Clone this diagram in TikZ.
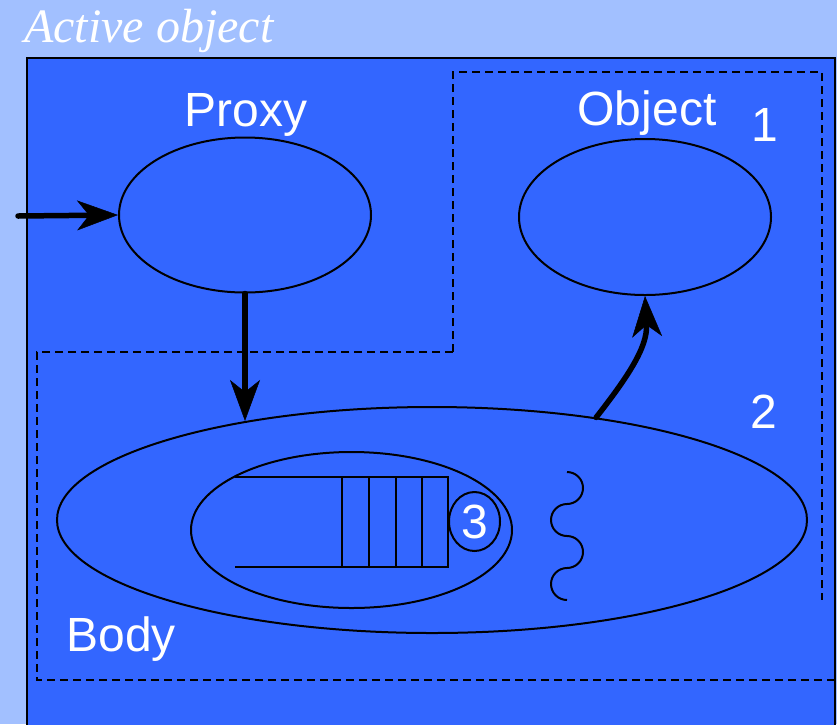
\documentclass[tikz,border=0pt]{standalone}
\usepackage{fontspec}
\setmainfont{Liberation Sans}
\newfontfamily\titlefont{Liberation Serif}
\usetikzlibrary{shapes.geometric,arrows.meta}
\definecolor{outerbg}{RGB}{162,192,255}
\definecolor{innerbg}{RGB}{51,102,255}
\tikzset{
  oval/.style={ellipse,draw=black,line width=2pt,inner sep=0pt},
  dashline/.style={draw=black,line width=1.7pt,dash pattern=on 8pt off 5pt},
  thin/.style={draw=black,line width=2pt},
  bigarrow/.style={draw=black,line width=5.5pt,line cap=round,-{Stealth[length=41pt,width=30pt,inset=12pt,line width=0.5pt]}},
  lbl/.style={text=white,font=\fontsize{48}{48}\selectfont,inner sep=0pt,anchor=base},
}
\begin{document}
\begin{tikzpicture}[x=1pt,y=1pt]
\useasboundingbox (0,0) rectangle (837,-724);
\fill[outerbg] (0,0) rectangle (837,-724);
\node[text=white,font=\titlefont\itshape\fontsize{48}{48}\selectfont,inner sep=0pt,anchor=base west] (title) at (24,-42) {Active object};
\draw[fill=innerbg,line width=2pt] (27,-58) rectangle (835,-740);
% dashed regions
\draw[dashline] (453,-352) -- (453,-72) -- (822,-72) -- (822,-600);
\draw[dashline] (453,-352) -- (37,-352) -- (37,-680) -- (837,-680);
% ellipses
\node[oval,minimum width=252pt,minimum height=155pt] (proxy) at (245,-215) {};
\node[oval,minimum width=252pt,minimum height=156pt] (obj) at (645,-217) {};
\node[oval,minimum width=750pt,minimum height=226pt] (body) at (432,-520) {};
\node[oval,minimum width=321pt,minimum height=156pt] (queue) at (351.5,-530) {};
\node[oval,minimum width=51pt,minimum height=59pt,text=white,font=\fontsize{48}{48}\selectfont] (three) at (474.5,-521.5) {3};
% queue
\draw[thin] (235,-477) -- (448,-477) -- (448,-567) -- (235,-567);
\foreach \qx in {342,369,396,422} { \draw[thin] (\qx,-477) -- (\qx,-567); }
% wavy line
\draw[thin] (567,-472) arc[start angle=90,end angle=-90,radius=16]
  arc[start angle=90,end angle=270,radius=16]
  arc[start angle=90,end angle=-90,radius=16]
  arc[start angle=90,end angle=270,radius=16];
% labels
\node[lbl] (lproxy) at (246,-126) {Proxy};
\node[lbl] (lobj) at (647,-125) {Object};
\node[lbl] (l1) at (765,-141) {1};
\node[lbl] (l2) at (764,-428) {2};
\node[lbl] (lbody) at (121,-651) {Body};
% arrows
\coordinate (src) at (18,-216);
\draw[bigarrow] (src) -- (proxy.west);
\draw[bigarrow] (proxy.south) -- (proxy.south |- body.152.6);
\draw[bigarrow] (body.32) to[out=52,in=-87] (obj.south);
\end{tikzpicture}
\end{document}
